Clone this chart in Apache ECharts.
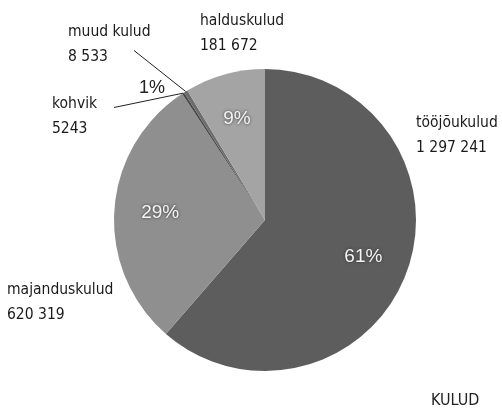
<!DOCTYPE html>
<html>
<head>
<meta charset="utf-8">
<script src="https://cdn.jsdelivr.net/npm/echarts@6/dist/echarts.min.js"></script>
<style>
  html, body { margin: 0; padding: 0; background: #fff; }
  #chart { width: 502px; height: 411px; }
</style>
</head>
<body>
<div id="chart"></div>
<script>
// kulude jaotus (clockwise from the top)
var names = ['tööjõukulud', 'majanduskulud', 'kohvik', 'muud kulud', 'halduskulud']
var values = [1297241, 620319, 5243, 8533, 181672]
var valueText = ['1 297 241', '620 319', '5243', '8 533', '181 672']
var colors = ['#5d5d5d', '#8f8f8f', '#4a4a4a', '#6c6c6c', '#a4a4a4']

var narrow = "'Liberation Sans Narrow', 'DejaVu Sans Condensed', sans-serif"
var CENTER = [265, 220]
var R = 151

// where the name / value blocks sit (top-left corner)
var namePos = [[416, 110], [7, 277], [52, 91], [68, 19], [200, 8]]
// ends of the two leader lines
var leadEnd = { 2: [114, 108], 3: [134, 50] }

var total = values.reduce(function (a, b) { return a + b }, 0)
var smallShare = Math.round((values[2] + values[3]) / total * 100)

var slices = names.map(function (n, i) {
  return { name: n, value: values[i], itemStyle: { color: colors[i] } }
})
var ghost = names.map(function (n, i) {
  return { name: n, value: values[i] }
})

var myChart = echarts.init(document.getElementById('chart'))
var option = {
  backgroundColor: '#ffffff',
  animation: false,
  title: {
    text: 'KULUD',
    left: 426,
    top: 388,
    textStyle: { fontFamily: narrow, fontSize: 16, fontWeight: 'normal', color: '#222' }
  },
  series: [{
    // the pie itself + name/value labels
    type: 'pie',
    center: CENTER,
    radius: R,
    avoidLabelOverlap: false,
    silent: true,
    itemStyle: { borderWidth: 0 },
    label: {
      show: true,
      position: 'outside',
      fontFamily: narrow,
      fontSize: 15.5,
      lineHeight: 25,
      color: '#1a1a1a',
      formatter: function (p) {
        return p.name + '\n' + valueText[p.dataIndex]
      }
    },
    labelLine: { show: false },
    labelLayout: function (p) {
      var pos = namePos[p.dataIndex]
      return { x: pos[0], y: pos[1], align: 'left', verticalAlign: 'top' }
    },
    data: slices
  }, {
    // percentages
    type: 'pie',
    center: CENTER,
    radius: [53, R],
    avoidLabelOverlap: false,
    silent: true,
    itemStyle: { color: 'rgba(0,0,0,0)' },
    label: {
      show: true,
      position: 'inside',
      fontFamily: "'Liberation Sans', Arial, sans-serif",
      fontSize: 19,
      color: '#f4f4f4',
      textShadowColor: 'rgba(40,40,40,0.9)',
      textShadowBlur: 3,
      formatter: function (p) {
        if (p.dataIndex === 2 || p.dataIndex === 3) return ''
        return Math.round(p.percent) + '%'
      }
    },
    labelLine: { show: false },
    data: ghost.map(function (d, i) {
      if (i !== 2) return d
      return {
        name: d.name,
        value: d.value,
        label: {
          position: 'outside',
          color: '#222',
          fontSize: 18,
          textShadowBlur: 0,
          formatter: function () { return smallShare + '%' }
        }
      }
    }),
    labelLayout: function (p) {
      if (p.dataIndex !== 2) return {}
      return { x: 139, y: 88, align: 'left', verticalAlign: 'middle' }
    }
  }, {
    // leader lines for the two thin slices
    type: 'pie',
    center: CENTER,
    radius: R,
    avoidLabelOverlap: false,
    silent: true,
    itemStyle: { color: 'rgba(0,0,0,0)' },
    label: { show: false },
    labelLine: { show: false },
    data: ghost.map(function (d, i) {
      if (!leadEnd[i]) return d
      return {
        name: d.name,
        value: d.value,
        label: {
          show: true,
          position: 'outside',
          formatter: ' ',
          fontSize: 1,
          padding: 0,
          width: 1,
          height: 1
        },
        labelLine: {
          show: true,
          length: 10,
          length2: 0,
          lineStyle: { color: '#222', width: 1 }
        }
      }
    }),
    labelLayout: function (p) {
      var e = leadEnd[p.dataIndex]
      if (!e) return {}
      return { x: e[0], y: e[1], align: 'center', verticalAlign: 'middle' }
    }
  }]
}
myChart.setOption(option)
</script>
</body>
</html>
